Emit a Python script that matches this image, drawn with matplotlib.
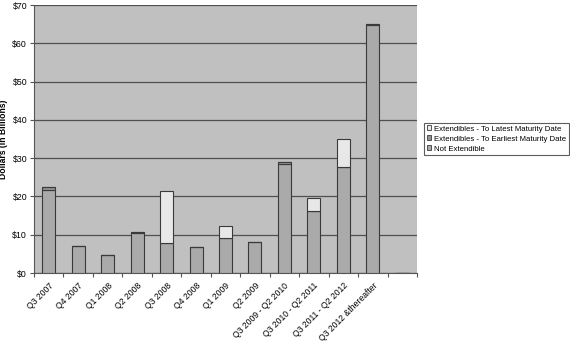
import numpy as np
import matplotlib.pyplot as plt
from matplotlib.patches import Patch

plt.rcParams['font.family'] = ['Liberation Sans', 'DejaVu Sans']

# maturity buckets (last slot left empty)
periods = ['Q3 2007', 'Q4 2007', 'Q1 2008', 'Q2 2008', 'Q3 2008', 'Q4 2008',
           'Q1 2009', 'Q2 2009', 'Q3 2009 - Q2 2010', 'Q3 2010 - Q2 2011',
           'Q3 2011 - Q2 2012', 'Q3 2012 &thereafter', '']

# $ billions
not_extendible = [21.7, 7.0, 4.8, 10.5, 7.8, 6.8, 9.2, 8.1, 28.5, 16.1, 27.8, 64.7, 0]
to_earliest = [0.8, 0.1, 0.0, 0.2, 0.0, 0.0, 0.0, 0.0, 0.4, 0.1, 0.0, 0.3, 0]
to_latest = [0.0, 0.0, 0.0, 0.0, 13.6, 0.0, 3.1, 0.0, 0.0, 3.5, 7.3, 0.0, 0]

c_not = '#aaaaaa'
c_early = '#939393'
c_late = '#e8e8e8'
edge = '#3a3a3a'

fig = plt.figure(figsize=(5.7, 3.46), dpi=100)
ax = fig.add_axes([34 / 570, 1 - 273 / 346, 383 / 570, 268 / 346])
ax.set_facecolor('#c0c0c0')

x = np.arange(len(periods))
w = 0.44
ne = np.array(not_extendible)
ea = np.array(to_earliest)
la = np.array(to_latest)
ax.bar(x, ne, w, color=c_not, edgecolor=edge, linewidth=0.8, zorder=3)
ax.bar(x, ea, w, bottom=ne, color=c_early, edgecolor=edge, linewidth=0.8, zorder=3)
ax.bar(x, la, w, bottom=ne + ea, color=c_late, edgecolor=edge, linewidth=0.8, zorder=3)

ax.set_xlim(-0.5, len(periods) - 0.5)
ax.set_ylim(0, 70)
ax.set_yticks(np.arange(0, 71, 10))
ax.set_yticklabels(['$%d' % v for v in range(0, 71, 10)], fontsize=6.3)
ax.yaxis.grid(True, color='#505050', linewidth=0.9, zorder=1)

# tick marks between buckets, labels under each bucket
ax.set_xticks(np.arange(-0.5, len(periods), 1.0))
ax.set_xticklabels([])
ax.set_xticks(x, minor=True)
ax.set_xticklabels(periods, minor=True, rotation=45, ha='right',
                   rotation_mode='anchor', fontsize=6.2)
ax.tick_params(axis='x', which='minor', length=0, pad=6)
ax.tick_params(axis='x', which='major', length=3, color='#555555')
ax.tick_params(axis='y', length=3, color='#555555', pad=2)

for s in ['top', 'right']:
    ax.spines[s].set_visible(False)
for s in ['left', 'bottom']:
    ax.spines[s].set_color('#555555')

ax.set_ylabel('Dollars (in Billions)', fontsize=6.2, fontweight='bold', labelpad=3)

handles = [Patch(facecolor=c_late, edgecolor=edge, linewidth=0.6),
           Patch(facecolor=c_early, edgecolor=edge, linewidth=0.6),
           Patch(facecolor=c_not, edgecolor=edge, linewidth=0.6)]
labels = ['Extendibles - To Latest Maturity Date',
          'Extendibles - To Earliest Maturity Date',
          'Not Extendible']
leg = fig.legend(handles, labels, loc='center left',
                 bbox_to_anchor=(424 / 570, 1 - 139 / 346), fontsize=5.6,
                 frameon=True, fancybox=False, handlelength=0.6, handleheight=0.6,
                 handletextpad=0.3, borderpad=0.35, labelspacing=0.35,
                 borderaxespad=0)
leg.get_frame().set_edgecolor('#333333')
leg.get_frame().set_linewidth(0.8)

fig.savefig('out.png', dpi=100)
